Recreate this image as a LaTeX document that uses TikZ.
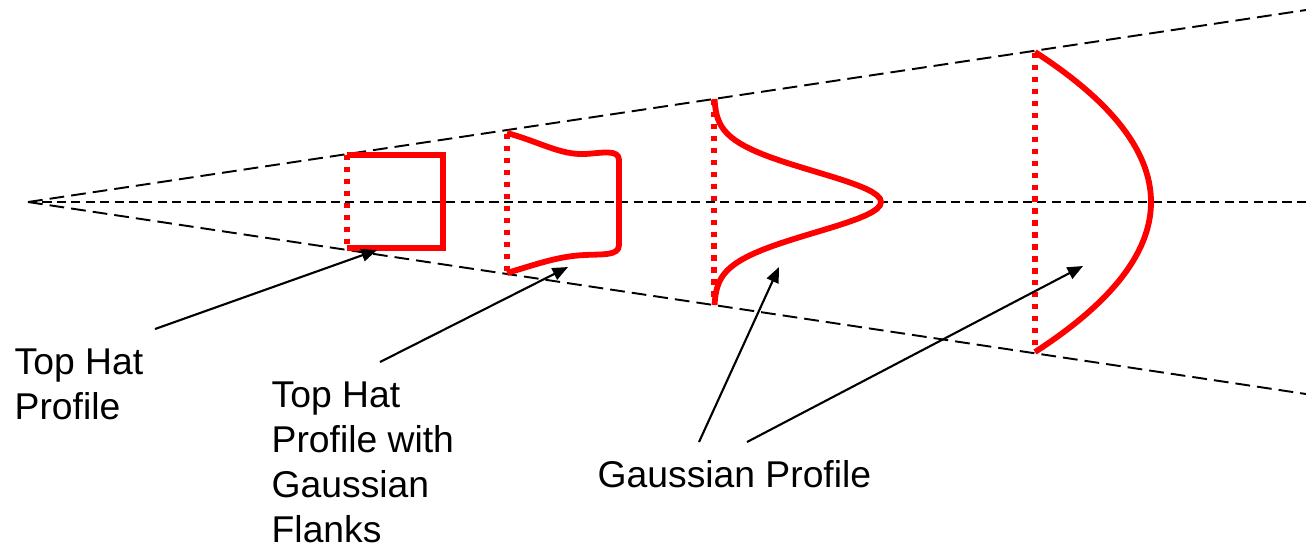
\documentclass[tikz,border=0pt]{standalone}
\usepackage{fontspec}
\setmainfont{Liberation Sans}
\usetikzlibrary{arrows.meta}

\begin{document}
\begin{tikzpicture}[
  x=0.01cm, y=-0.01cm,
  font=\fontsize{10.6}{12.8}\selectfont,
  lbl/.style={anchor=north west, inner sep=0pt, align=left},
  cone/.style={line width=0.55pt, dash pattern=on 4.2pt off 2pt},
  axis/.style={line width=0.55pt, dash pattern=on 2.6pt off 1.5pt},
  prof/.style={red, line width=1.65pt},
  rim/.style={red, line width=1.6pt, dash pattern=on 1.5pt off 1.9pt},
  ar/.style={-{Triangle[length=4.4pt, width=3.6pt]}, line width=0.6pt}
]
\useasboundingbox (0,0) rectangle (1306,544);
% spreading cone and axis
\coordinate (apex) at (28,202);
\coordinate (upend) at (1306,10);
\coordinate (loend) at (1306,394);
\coordinate (axend) at (1306,202);
\draw[cone] (apex) -- (upend);
\draw[cone] (apex) -- (loend);
\draw[axis] (apex) -- (axend);
% top hat
\draw[rim] (347,155) -- (347,248);
\draw[prof] (347,155) -- (443,155) -- (443,248) -- (347,248);
% top hat with gaussian flanks
\draw[rim] (507,134) -- (507,272);
\draw[prof, line join=round] (507,133) .. controls (540,142) and (560,155) .. (585,154)
      .. controls (602,153) and (619,149) .. (619,160) -- (619,245)
      .. controls (619,256) and (602,254) .. (585,255)
      .. controls (560,256) and (540,263) .. (507,273);
% gaussian profiles
\draw[rim] (714,100) -- (714,302);
\draw[prof] plot[domain=-103:103, samples=61] ({714+167*exp(-(\x/43)^2)}, {202+\x});
\draw[rim] (1035,53) -- (1035,351);
\draw[prof] plot[domain=-150:150, samples=61] ({1035+116*(1-(\x/150)^2)}, {202+\x});
% labels
\node[lbl] (thlbl) at (14,348) {Top Hat\\Profile};
\node[lbl] (gflbl) at (271,381) {Top Hat\\Profile with\\Gaussian\\Flanks};
\node[lbl] (galbl) at (597,460) {Gaussian Profile};
% pointers
\coordinate (th-tail) at (155,329);   \coordinate (th-tip) at (377,250);
\coordinate (gf-tail) at (380,362);   \coordinate (gf-tip) at (568,267);
\coordinate (ga-tail) at (699,442);   \coordinate (ga-tip) at (779,267);
\coordinate (gb-tail) at (747,442);   \coordinate (gb-tip) at (1083,266);
\draw[ar] (th-tail) -- (th-tip);
\draw[ar] (gf-tail) -- (gf-tip);
\draw[ar] (ga-tail) -- (ga-tip);
\draw[ar] (gb-tail) -- (gb-tip);
\end{tikzpicture}
\end{document}
